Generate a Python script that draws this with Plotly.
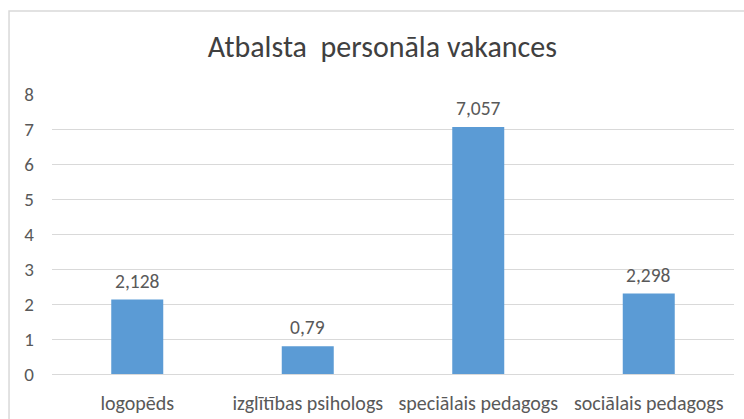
import plotly.graph_objects as go

# data
categories = ["logopēds", "izglītības psihologs", "speciālais pedagogs", "sociālais pedagogs"]
values = [2.128, 0.79, 7.057, 2.298]
labels = [f"{v:g}".replace(".", ",") for v in values]
y_ticks = [0, 1, 2, 3, 4, 5, 6, 7, 8]

BAR = "#5B9BD5"
TEXT = "#595959"
GRID = "#D9D9D9"
FONT = "Carlito, Lato, sans-serif"

fig = go.Figure(go.Bar(
    x=categories,
    y=values,
    marker=dict(color=BAR, line=dict(width=0)),
    hoverinfo="x+y",
))

# data labels above the bars
for cat, val, lab in zip(categories, values, labels):
    fig.add_annotation(
        x=cat, y=val, text=lab, showarrow=False,
        yanchor="bottom", yshift=5,
        font=dict(size=19.5, color=TEXT, family=FONT),
    )

fig.update_layout(
    width=744,
    height=419,
    paper_bgcolor="white",
    plot_bgcolor="white",
    font=dict(family=FONT, color=TEXT, size=19),
    margin=dict(l=52, r=10, t=94, b=45),
    bargap=0.695,
    showlegend=False,
    title=dict(
        text="Atbalsta  personāla vakances",
        font=dict(size=30, color="#404040", family=FONT),
        x=0.514, xanchor="center",
        y=0.888, yanchor="middle",
    ),
    xaxis=dict(
        showgrid=False, showline=False, ticks="",
        tickfont=dict(size=20, color=TEXT),
        ticklabelstandoff=15,
        automargin=False,
    ),
    yaxis=dict(
        range=[0, 8], tickvals=y_ticks,
        gridcolor=GRID, gridwidth=1,
        zeroline=True, zerolinecolor=GRID, zerolinewidth=1,
        showline=False, ticks="",
        tickfont=dict(size=19, color=TEXT),
        ticklabelstandoff=17,
        automargin=False,
    ),
)

# outer chart border (cropped on right and bottom in the reference)
fig.add_shape(
    type="rect", xref="paper", yref="paper",
    x0=-0.063, x1=1.03, y0=-0.3, y1=1.296,
    line=dict(color=GRID, width=1.5), layer="below",
)

fig.write_html(
    "out.html",
    config={"displayModeBar": False},
    post_script="document.body.style.margin='0';",
)
